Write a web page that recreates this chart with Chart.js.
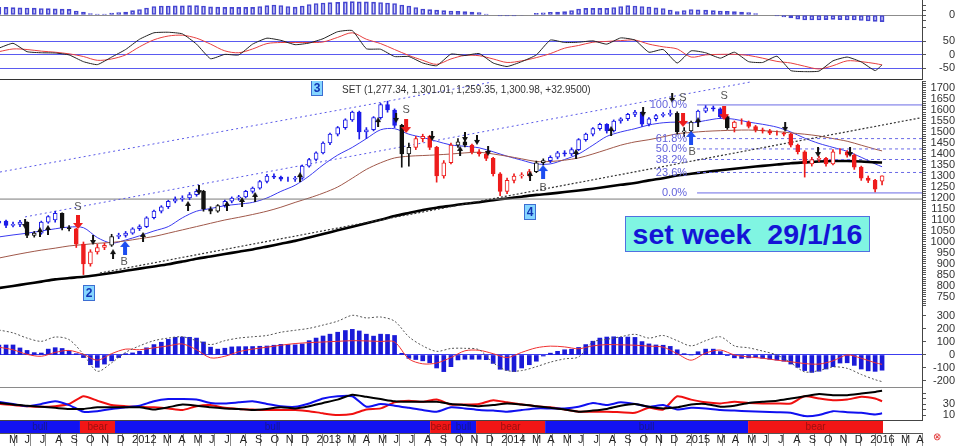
<!DOCTYPE html>
<html>
<head>
<meta charset="utf-8">
<script src="https://cdn.jsdelivr.net/npm/chart.js@4.4.1/dist/chart.umd.min.js"></script>
<style>
  body { margin: 0; background: #fff; }
  #wrap { position: relative; width: 960px; height: 446px; overflow: hidden; font-family: "Liberation Sans", Arial, sans-serif; }
  #wrap canvas { position: absolute; left: 0; }
  .head { position: absolute; left: 342px; top: 84px; font-size: 10px; color: #333; white-space: pre; }
  .title { position: absolute; left: 625px; top: 216px; width: 243px; height: 34px; background: #80f5e2; border: 1px solid #5070e0;
    color: #1414d6; font: bold 28.5px "Liberation Sans", Arial, sans-serif; line-height: 34px; text-align: center; white-space: pre; }
  .mark { position: absolute; left: 933px; top: 431px; color: #e03030; font-size: 10px; }
</style>
</head>
<body>
<div id="wrap">
  <canvas id="trendPanel" width="960" height="22" style="top:0px"></canvas>
  <canvas id="oscPanel" width="960" height="58" style="top:22px"></canvas>
  <canvas id="pricePanel" width="960" height="226" style="top:81px"></canvas>
  <canvas id="macdPanel" width="960" height="81" style="top:307px"></canvas>
  <canvas id="dmiPanel" width="960" height="33" style="top:388px"></canvas>
  <canvas id="regimePanel" width="960" height="25" style="top:421px"></canvas>
  <div class="head">SET (1,277.34, 1,301.01, 1,259.35, 1,300.98, +32.9500)</div>
  <div class="title">set week  29/1/16</div>
  <div class="mark">⊗</div>
</div>
<script>
// ---- weekly SET candles, one every two weeks from 15 Apr 2011 ----
const candleOpen = [1085,1095,1075,1080,1090,1030,1040,1090,1100,1130,
  1065,1060,990,900,955,975,985,1025,1030,1040,
  1060,1070,1110,1140,1160,1185,1195,1200,1215,1230,
  1150,1140,1165,1185,1200,1205,1230,1245,1275,1300,
  1295,1285,1285,1290,1345,1375,1405,1450,1490,1520,
  1555,1590,1500,1510,1565,1625,1600,1530,1400,1430,
  1470,1480,1430,1300,1360,1440,1455,1440,1410,1400,
  1380,1310,1230,1280,1300,1305,1320,1360,1370,1385,
  1405,1400,1420,1465,1490,1515,1535,1505,1550,1560,
  1580,1590,1535,1560,1575,1580,1585,1500,1505,1545,
  1595,1610,1605,1570,1520,1545,1545,1525,1510,1505,
  1495,1495,1490,1440,1410,1355,1375,1380,1355,1410,
  1410,1395,1340,1290,1280,1277];
const candleHigh = [1100,1100,1090,1098,1092,1048,1095,1120,1140,1132,
  1075,1062,1000,965,990,995,1035,1040,1048,1065,
  1078,1115,1145,1165,1190,1205,1210,1225,1240,1235,
  1160,1170,1190,1205,1212,1235,1250,1280,1308,1310,
  1300,1295,1298,1350,1380,1410,1455,1495,1525,1560,
  1595,1595,1520,1570,1630,1640,1605,1535,1450,1480,
  1490,1485,1435,1370,1450,1470,1465,1445,1420,1410,
  1385,1315,1290,1310,1315,1330,1368,1378,1392,1412,
  1415,1428,1470,1495,1520,1540,1538,1555,1565,1585,
  1598,1592,1565,1580,1588,1600,1592,1520,1550,1600,
  1620,1618,1610,1575,1550,1560,1550,1530,1518,1512,
  1505,1500,1495,1445,1415,1385,1390,1385,1420,1425,
  1415,1400,1345,1300,1285,1301];
const candleLow = [1075,1065,1068,1070,1020,1022,1035,1085,1090,1055,
  1050,975,852,890,945,965,980,1015,1022,1035,
  1052,1065,1105,1132,1152,1178,1185,1192,1208,1140,
  1128,1135,1158,1178,1190,1200,1222,1240,1268,1288,
  1278,1275,1275,1285,1340,1368,1400,1442,1482,1512,
  1548,1468,1470,1505,1558,1590,1520,1340,1345,1420,
  1455,1420,1272,1290,1355,1430,1432,1400,1390,1370,
  1300,1210,1220,1268,1290,1295,1315,1350,1360,1378,
  1390,1392,1415,1458,1482,1508,1495,1500,1540,1552,
  1570,1525,1528,1550,1568,1572,1490,1480,1498,1540,
  1588,1595,1562,1512,1500,1535,1518,1500,1495,1488,
  1485,1482,1432,1400,1295,1345,1365,1345,1350,1400,
  1385,1330,1280,1270,1228,1259];
const candleClose = [1095,1075,1080,1090,1030,1040,1090,1115,1130,1065,
  1060,990,900,955,975,985,1025,1030,1040,1060,
  1070,1110,1140,1160,1185,1195,1200,1215,1230,1150,
  1140,1165,1185,1200,1205,1230,1245,1275,1300,1295,
  1285,1285,1290,1345,1375,1405,1450,1490,1520,1555,
  1590,1500,1510,1565,1625,1600,1530,1400,1430,1470,
  1480,1430,1300,1360,1440,1455,1440,1410,1400,1380,
  1310,1230,1280,1300,1305,1320,1360,1370,1385,1405,
  1400,1420,1465,1490,1515,1535,1505,1550,1560,1580,
  1590,1535,1560,1575,1580,1585,1500,1505,1545,1595,
  1610,1605,1570,1520,1545,1545,1525,1510,1505,1495,
  1495,1490,1440,1410,1355,1375,1380,1355,1410,1410,
  1395,1340,1290,1280,1240,1301];
// b = trend up, r = trend down, k = neutral
const candleTone = "bbbbkkbbbkkrrrrrkbbbbbbbbbbbbkkkbbbbbbbbbbbbbbbbbbbbbbbbbkkrrrrrrkkrrrrrrrrrkkbbbbbbbbbbbbbbbbbbkkkbbbbkrrrrrrrrrrrrrrrrrrrrrr";

// histograms, same two-week dates as the candles
const trendHist = [7.7,7.6,7.4,7.2,7,6.8,6.5,6.3,6.1,5.9,
  5.6,4,2.8,1.5,1,1,2,2.5,3,4.3,
  5.5,7,8.5,9,9,9.1,9.2,9.3,9.3,9,
  8.2,7.8,7.7,7.7,7.7,7.7,7.7,8.5,9.3,10,
  9.5,8.5,7.8,9,10.5,11.5,12,12.3,12.7,13.2,
  13.3,13.2,13.1,12.8,12.5,12,11.5,10,9,7.5,
  6,5.3,4.8,4.3,4,3.6,3.3,3,2.5,1,
  0,-0.8,-1,-1,-0.5,0.5,1.7,2.2,2.7,3,
  3.3,4.5,6,6.7,6.7,6.7,6.7,7.5,8.5,9.3,
  9,8.5,8,7.2,6.5,5,3.5,4.5,5.5,5.2,
  4.8,4.4,4,3.6,3.3,3,2.5,1.5,0.5,0,
  -1,-2,-3,-4.2,-5,-5,-5,-4.6,-4.3,-4.6,
  -5,-5,-5.5,-6,-6.3,-6.7];
const macdHist = [77,77,77,54,35,18,15,45,56,50,
  28,10,-20,-75,-95,-70,-45,-20,10,16,
  28,55,80,98,120,136,138,136,130,100,
  60,45,52,62,64,64,65,67,69,75,
  82,80,78,85,110,130,146,160,175,188,
  197,185,160,145,160,158,150,13,-26,-35,
  -45,-60,-100,-128,-90,-38,-33,-33,-33,-36,
  -65,-110,-118,-128,-100,-75,-48,-8,14,28,
  40,44,58,80,106,130,138,140,136,138,
  135,103,85,77,75,66,40,10,0,25,
  45,45,26,-5,-22,-26,-22,-18,-26,-33,
  -39,-48,-70,-95,-120,-134,-125,-108,-90,-62,
  -60,-80,-108,-122,-126,-117];

// line series, one point every four weeks plus the last week
const maFast = [1023,1032,1040,1050,1060,1068,1065,1020,995,1009,
  1028,1050,1070,1110,1140,1152,1165,1172,1180,1200,
  1230,1258,1300,1350,1395,1430,1470,1510,1515,1490,
  1475,1458,1441,1435,1428,1410,1390,1372,1355,1355,
  1375,1400,1440,1480,1500,1515,1532,1542,1545,1541,
  1552,1562,1558,1545,1535,1522,1500,1472,1448,1430,
  1412,1385,1355,1342];
const maSlow = [927,940,952,963,972,982,988,994,998,1005,
  1015,1025,1040,1055,1070,1085,1100,1112,1125,1140,
  1158,1180,1200,1222,1250,1290,1330,1360,1382,1390,
  1393,1396,1400,1405,1408,1400,1390,1378,1366,1366,
  1372,1382,1400,1420,1440,1455,1465,1478,1492,1498,
  1503,1506,1508,1509,1506,1502,1496,1490,1482,1470,
  1458,1440,1422,1414];
const maLong = [791,800,810,820,830,836,842,850,859,869,
  879,889,899,911,924,934,945,956,966,979,
  992,1005,1020,1036,1053,1069,1085,1101,1118,1132,
  1145,1156,1165,1174,1181,1190,1198,1206,1214,1220,
  1227,1234,1242,1251,1260,1268,1280,1290,1302,1310,
  1318,1326,1333,1340,1346,1352,1358,1362,1366,1368,
  1368,1366,1362,1361];
const oscFast = [25,43,12,8,7,0,-25,-36,-8,20,
  58,82,84,78,40,-14,2,0,40,62,
  54,38,44,60,86,90,23,21,-6,-6,
  -30,-40,3,-2,5,-30,-43,-25,0,55,
  46,47,52,40,63,55,10,20,-30,15,
  8,-12,10,-25,-28,-5,-58,-62,-60,-22,
  -8,-26,-58,-37];
const oscSlow = [12,22,20,14,10,4,-6,-20,-15,0,
  30,56,70,73,62,40,15,8,22,42,
  46,46,46,48,65,82,58,42,20,-2,
  -20,-35,-15,-2,-3,-15,-28,-22,-10,5,
  25,35,47,50,53,55,40,30,22,-8,
  0,2,2,-2,-12,-24,-30,-42,-52,-40,
  -22,-25,-32,-37];
const macdLine = [60,40,5,-10,20,35,5,-40,10,45,
  40,55,70,85,40,-22,-10,25,45,60,
  75,88,95,100,105,110,108,104,100,-30,
  -68,-62,-20,32,36,10,-20,20,55,68,
  62,48,70,80,78,75,68,60,10,-40,
  15,38,0,-15,-25,-40,-52,-66,-70,-45,
  0,-25,-60,-72];
const macdBand = [192,170,130,105,138,118,5,-125,-60,20,
  70,110,130,140,110,80,110,130,140,150,
  175,190,205,230,260,305,285,292,260,140,
  70,28,50,51,40,-60,-120,-120,-90,-55,
  -30,-15,100,120,140,159,130,150,110,70,
  110,140,70,55,30,0,-60,-130,-120,-92,
  -103,-150,-190,-205];
const adx = [32,29,27,25,23,21,21,24,24,24,
  24,20,24,29,27,24,22,21,19,21,
  24,22,26,32,38,47,43,39,35,34,
  34,34,30,28,26,28,31,29,26,23,
  20,16,18,21,27,30,25,22,24,29,
  30,25,27,32,34,36,40,44,48,46,
  46,49,52,54];
const diMinus = [30,28,26,25,26,30,44,36,28,26,
  25,24,22,19,26,28,23,21,20,19,
  19,19,17,13,10,12,20,22,33,36,
  34,38,29,29,30,37,33,29,26,24,
  20,16,16,16,15,14,23,20,44,38,
  33,31,34,32,31,31,31,44,40,37,
  38,43,40,35];
const diPlus = [34,30,26,30,35,28,16,17,21,24,
  27,35,39,39,38,32,31,33,35,30,
  26,25,31,40,44,44,25,30,27,23,
  19,16,24,22,19,18,16,19,22,22,
  22,25,32,28,33,30,25,28,20,23,
  22,19,18,17,16,15,14,8,10,17,
  15,14,11,13];

// trend lines (x in months since Jan 2011)
const upperChannelX = [3.54, 35.54], upperChannelP = [1318, 1727];
const midChannelX = [5.17, 52.32], midChannelP = [1114, 1727];
const supportX = [10.04, 63.38], supportP = [859, 1564];
const floorLevel = 1195;
const fibNames = ['100.0%', '61.8%', '50.0%', '38.2%', '23.6%', '0.0%'];
const fibLevels = [1623, 1470, 1423, 1375, 1316, 1223];
const fibFrom = 48.87, fibLabelAt = 48.22;

// signals
const sellTickAt = [5.17, 9.59, 16.48, 29.30, 31.64, 33.78, 34.56, 35.28, 45.36, 47.25, 54.60, 56.74, 58.82];
const sellTickPrice = [1082, 1009, 1236, 1564, 1482, 1477, 1464, 1414, 1591, 1655, 1523, 1409, 1409];
const buyTickAt = [6.14, 6.66, 10.89, 12.84, 15.77, 18.30, 19.28, 20.13, 23.05, 28.13, 33.46, 38.01, 41.0, 43.28, 48.94];
const buyTickPrice = [1045, 1055, 945, 1023, 1164, 1164, 1182, 1205, 1295, 1545, 1414, 1300, 1400, 1505, 1545];
const sellSignalAt = [8.61, 29.95, 47.96, 50.63];
const sellSignalPrice = [1091, 1527, 1555, 1586];
const sellLabelPrice = [1159, 1600, 1655, 1664];
const buySignalAt = [11.67, 38.86, 48.48];
const buySignalPrice = [973, 1318, 1473];
const buyLabelAt = [11.61, 38.86, 48.55];
const buyLabelPrice = [909, 1245, 1409];
const waveNames = ['2', '3', '4'];
const waveAt = [9.33, 24.16, 38.01];
const wavePrice = [768, 1700, 1136];

// bull / bear regimes
const regimeEdges = [3.54, 8.74, 11.02, 31.51, 32.87, 34.50, 38.99, 52.19, 60.97];
const regimeNames = ['bull', 'bear', 'bull', 'bear', 'bull', 'bear', 'bull', 'bear'];

// month axis, first tick is May 2011
const FIRST_TICK = 4;
const monthTickLabels = ['M','J','J','A','S','O','N','D',
  '2012','','M','A','M','J','J','A','S','O','N','D',
  '2013','','M','A','M','J','J','A','S','O','N','D',
  '2014','','M','A','M','J','J','A','S','O','N','D',
  '2015','','M','A','M','J','J','A','S','O','N','D',
  '2016','','M','A'];

const priceTickLabels = [750,800,850,900,950,1000,1050,1100,1150,1200,1250,1300,1350,1400,1450,1500,1550,1600,1650,1700];

// ---------------------------------------------------------------
Chart.defaults.font.family = '"Liberation Sans", Arial, sans-serif';
Chart.defaults.font.size = 11;
Chart.defaults.color = '#333';

const X_MIN = 3.54, X_MAX = 63.5;
const AXIS_W = 33;
const DAY = 86400000;

const monthPos = (t) => {
  const d = new Date(t);
  const y = d.getUTCFullYear(), m = d.getUTCMonth();
  const dim = new Date(Date.UTC(y, m + 1, 0)).getUTCDate();
  return (y - 2011) * 12 + m + (d.getUTCDate() - 1) / dim;
};
const candleX = candleClose.map((_, i) => monthPos(Date.UTC(2011, 3, 15) + i * 14 * DAY));
const lineX = candleX.filter((_, i) => i % 2 === 0 || i === candleX.length - 1);
const pts = (xs, ys) => ys.map((y, i) => ({ x: xs[i], y }));

const measure = document.createElement('canvas').getContext('2d');
measure.font = '11px "Liberation Sans", Arial, sans-serif';
const labelPad = (labels) => AXIS_W - 4 - 1 - Math.max(...labels.map((l) => measure.measureText(String(l)).width));

const rightAxis = (min, max, tickValues, labelled, gridAt = [], gridColor = '#000') => ({
  position: 'right', min, max,
  afterBuildTicks: (s) => { s.ticks = tickValues.map((v) => ({ value: v })); },
  afterFit: (s) => { s.width = AXIS_W; s.paddingTop = 0; s.paddingBottom = 0; },
  ticks: { autoSkip: false, crossAlign: 'far', padding: labelPad(labelled), color: '#333',
    callback: (v) => (labelled.includes(v) ? String(v) : '') },
  grid: { tickLength: 4, tickColor: '#555', drawOnChartArea: gridAt.length > 0,
    color: (c) => (c.tick && gridAt.includes(c.tick.value) ? gridColor : 'rgba(0,0,0,0)') },
  border: { display: true, color: '#444' },
});
const hiddenX = () => ({ type: 'linear', min: X_MIN, max: X_MAX, display: false, offset: false });

const line = (xs, ys, color, width, extra = {}) => Object.assign(
  { type: 'line', data: pts(xs, ys), borderColor: color, borderWidth: width, pointRadius: 0, fill: false, tension: 0.3, order: 3 },
  extra);

const frame = {
  id: 'frame',
  afterDraw(chart, args, opts) {
    const { ctx, chartArea: a } = chart;
    if (!opts.top && !opts.bottom) return;
    ctx.save();
    ctx.strokeStyle = opts.color || '#444';
    ctx.lineWidth = 1;
    ctx.beginPath();
    if (opts.top) { ctx.moveTo(a.left, a.top + 0.5); ctx.lineTo(a.right, a.top + 0.5); }
    if (opts.bottom) { ctx.moveTo(a.left, a.bottom - 0.5); ctx.lineTo(a.right, a.bottom - 0.5); }
    ctx.stroke();
    ctx.restore();
  },
};
Chart.register(frame);

const panel = (id, datasets, y, frameOpts = {}, plugins = [], x = hiddenX()) => new Chart(document.getElementById(id), {
  type: 'bar',
  data: { datasets },
  options: {
    responsive: false, animation: false, events: [],
    layout: { autoPadding: false, padding: { left: 0, right: 5, top: 0, bottom: 0 } },
    plugins: { legend: { display: false }, tooltip: { enabled: false }, frame: frameOpts },
    scales: { x, y },
  },
  plugins,
});

// arrow glyphs used as point styles
const arrowGlyph = (color, w, h, shaft, up) => {
  const c = document.createElement('canvas');
  c.width = w; c.height = h;
  const g = c.getContext('2d');
  g.fillStyle = color;
  const head = Math.round(h * 0.45);
  g.beginPath();
  if (up) {
    g.moveTo(w / 2, 0); g.lineTo(w, head); g.lineTo(0, head); g.closePath(); g.fill();
    g.fillRect((w - shaft) / 2, head, shaft, h - head);
  } else {
    g.moveTo(w / 2, h); g.lineTo(w, h - head); g.lineTo(0, h - head); g.closePath(); g.fill();
    g.fillRect((w - shaft) / 2, 0, shaft, h - head);
  }
  return c;
};

// ---- top histogram ----
panel('trendPanel', [
  { data: pts(candleX, trendHist), backgroundColor: 'rgba(70,70,210,0.25)', borderColor: '#4646d2', borderWidth: 1,
    borderSkipped: false, barThickness: 4, grouped: false },
], rightAxis(-7, 15, [-5, 0, 5, 10], [0], [0], '#8c8c8c'));

// ---- oscillator ----
panel('oscPanel', [
  line(lineX, oscFast, '#222', 1, { tension: 0.15, order: 1 }),
  line(lineX, oscSlow, '#e84040', 1, { order: 2 }),
], rightAxis(-93, 122, [-50, 0, 50, 100], [-50, 0, 50], [-50, 0, 50], '#5a5af0'), { bottom: true, color: '#333' });

// ---- price ----
const TONE = { b: '#1c1ce8', r: '#ee1c1c', k: '#111111' };
const toneAt = (c) => TONE[candleTone[c.dataIndex]] || TONE.b;
const fibSets = fibLevels.map((p, i) => line([fibFrom, X_MAX], [p, p], '#6a6ae6', 1,
  { tension: 0, borderDash: (i === 0 || i === fibLevels.length - 1) ? [] : [3, 3] }));

const priceNotes = {
  id: 'priceNotes',
  afterDatasetsDraw(chart) {
    const { ctx, scales: { x, y } } = chart;
    ctx.save();
    ctx.textBaseline = 'middle';
    ctx.font = '11px "Liberation Sans", Arial, sans-serif';
    ctx.fillStyle = '#6464dc';
    ctx.textAlign = 'right';
    fibLevels.forEach((p, i) => ctx.fillText(fibNames[i], x.getPixelForValue(fibLabelAt), y.getPixelForValue(p)));
    ctx.fillStyle = '#555';
    ctx.textAlign = 'center';
    sellSignalAt.forEach((m, i) => ctx.fillText('S', x.getPixelForValue(m), y.getPixelForValue(sellLabelPrice[i])));
    buyLabelAt.forEach((m, i) => ctx.fillText('B', x.getPixelForValue(m), y.getPixelForValue(buyLabelPrice[i])));
    ctx.font = 'bold 12px "Liberation Sans", Arial, sans-serif';
    waveNames.forEach((t, i) => {
      const px = Math.round(x.getPixelForValue(waveAt[i])), py = Math.round(y.getPixelForValue(wavePrice[i]));
      ctx.fillStyle = '#86d6ff';
      ctx.fillRect(px - 6, py - 8, 12, 16);
      ctx.strokeStyle = '#3c6ed2';
      ctx.lineWidth = 1;
      ctx.strokeRect(px - 5.5, py - 7.5, 11, 15);
      ctx.fillStyle = '#1034b4';
      ctx.fillText(t, px, py + 1);
    });
    ctx.restore();
  },
};

panel('pricePanel', [
  line(upperChannelX, upperChannelP, '#5a5ae8', 1, { tension: 0, borderDash: [2, 3] }),
  line(midChannelX, midChannelP, '#5a5ae8', 1, { tension: 0, borderDash: [2, 3] }),
  line(supportX, supportP, '#333', 1.2, { tension: 0, borderDash: [2, 2] }),
  line([X_MIN, X_MAX], [floorLevel, floorLevel], '#7a7a7a', 1, { tension: 0 }),
  ...fibSets,
  line(lineX, maLong, '#000', 2.6),
  line(lineX, maSlow, '#a0584a', 1),
  line(lineX, maFast, '#3a3af0', 1),
  { data: candleX.map((x, i) => ({ x, y: [candleLow[i], candleHigh[i]] })), backgroundColor: toneAt,
    barThickness: 1, grouped: false, order: 2 },
  { data: candleX.map((x, i) => ({ x, y: [candleOpen[i], candleClose[i]] })), borderColor: toneAt,
    backgroundColor: (c) => (candleClose[c.dataIndex] > candleOpen[c.dataIndex] ? '#ffffff' : toneAt(c)),
    borderWidth: 1, borderSkipped: false, barThickness: 4, grouped: false, order: 1 },
  { type: 'scatter', data: pts(sellTickAt, sellTickPrice), pointStyle: arrowGlyph('#111', 6, 10, 2, false), pointRadius: 4, order: 0 },
  { type: 'scatter', data: pts(buyTickAt, buyTickPrice), pointStyle: arrowGlyph('#111', 6, 10, 2, true), pointRadius: 4, order: 0 },
  { type: 'scatter', data: pts(sellSignalAt, sellSignalPrice), pointStyle: arrowGlyph('#ee1c1c', 10, 14, 4, false), pointRadius: 6, order: 0 },
  { type: 'scatter', data: pts(buySignalAt, buySignalPrice), pointStyle: arrowGlyph('#1c4cf0', 10, 14, 4, true), pointRadius: 6, order: 0 },
], rightAxis(704.5, 1731.8, Array.from({ length: 103 }, (_, i) => 710 + i * 10), priceTickLabels), {}, [priceNotes]);

// ---- MACD ----
panel('macdPanel', [
  { data: pts(candleX, macdHist), backgroundColor: '#1a1ad8', barThickness: 4, grouped: false, order: 3 },
  line(lineX, macdLine, '#f03030', 1, { order: 2 }),
  line(lineX, macdBand, '#555', 1, { borderDash: [2, 2], order: 1 }),
], rightAxis(-254, 369, [-200, -100, 0, 100, 200, 300], [-200, -100, 0, 100, 200, 300], [0], '#3c3cf0'),
{ bottom: true, color: '#8a8a8a' });

// ---- DMI ----
panel('dmiPanel', [
  line(lineX, diMinus, '#f01010', 2, { tension: 0.2, order: 3 }),
  line(lineX, diPlus, '#1010f0', 2, { tension: 0.2, order: 2 }),
  line(lineX, adx, '#000', 2, { tension: 0.2, order: 1 }),
], rightAxis(-0.9, 59.1, [10, 20, 30, 40, 50], [10, 30]), { bottom: true, color: '#444' });

// ---- bull / bear strip and month axis ----
const regimeLabels = {
  id: 'regimeLabels',
  afterDatasetsDraw(chart) {
    const { ctx, scales: { x, y } } = chart;
    ctx.save();
    ctx.font = '10px "Liberation Sans", Arial, sans-serif';
    ctx.textAlign = 'center';
    ctx.textBaseline = 'middle';
    regimeNames.forEach((n, i) => {
      ctx.fillStyle = n === 'bull' ? '#18188a' : '#9a1010';
      ctx.fillText(n, x.getPixelForValue((regimeEdges[i] + regimeEdges[i + 1]) / 2), y.getPixelForValue(0.5));
    });
    ctx.restore();
  },
};

panel('regimePanel',
  regimeNames.map((n, i) => ({
    type: 'line', data: pts([regimeEdges[i], regimeEdges[i + 1]], [1, 1]), fill: 'origin',
    backgroundColor: n === 'bull' ? '#1212f2' : '#f21616', borderWidth: 0, pointRadius: 0,
  })),
  { display: true, position: 'right', min: 0, max: 1,
    afterFit: (s) => { s.width = AXIS_W; s.paddingTop = 0; s.paddingBottom = 0; },
    ticks: { display: false }, grid: { display: false }, border: { display: false } },
  {}, [regimeLabels],
  { type: 'linear', min: X_MIN, max: X_MAX, offset: false, position: 'bottom',
    afterBuildTicks: (s) => { s.ticks = monthTickLabels.map((_, i) => ({ value: FIRST_TICK + i })); },
    afterFit: (s) => { s.height = 13; s.paddingLeft = 0; s.paddingRight = 0; },
    ticks: { autoSkip: false, maxRotation: 0, minRotation: 0, align: 'start', labelOffset: 2, padding: -13,
      color: '#222', callback: (v) => monthTickLabels[Math.round(v) - FIRST_TICK] },
    grid: { drawOnChartArea: false, tickLength: 13, color: '#8a8a8a' },
    border: { display: true, color: '#555' } });
</script>
</body>
</html>
